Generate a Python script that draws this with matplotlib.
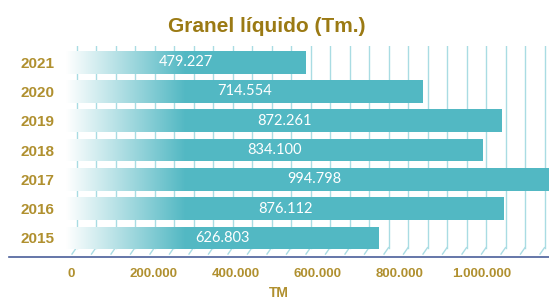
import numpy as np
import matplotlib.pyplot as plt
from matplotlib.colors import LinearSegmentedColormap

years = ['2015', '2016', '2017', '2018', '2019', '2020', '2021']
values = [626803, 876112, 994798, 834100, 872261, 714554, 479227]
labels = ['626.803', '876.112', '994.798', '834.100', '872.261', '714.554', '479.227']
tick_vals = [0, 200000, 400000, 600000, 800000, 1000000]
tick_labels = ['0', '200.000', '400.000', '600.000', '800.000', '1.000.000']

teal = '#52b8c3'
gold = '#b0902f'
grad = LinearSegmentedColormap.from_list('g', ['#ffffff', teal])
sans = ['Liberation Sans', 'DejaVu Sans']

fig = plt.figure(figsize=(5.49, 3.07), dpi=100)
ax = fig.add_axes([9 / 549, 1 - 257 / 307, 540 / 549, 211 / 307])
ax.set_xlim(-114000, 966000)
ax.set_ylim(-0.65, 6.55)

# background grid (light teal verticals + slanted floor)
for gx in np.arange(21000, 966000, 39000):
    ax.plot([gx, gx], [-0.33, 6.55], color='#a9dce3', lw=1.0, zorder=1)
    ax.plot([gx - 9000, gx], [-0.55, -0.33], color='#a9dce3', lw=1.0, zorder=1)

y = np.arange(len(years))
bars = ax.barh(y, values, height=0.78, color='none', edgecolor='none', zorder=3)
g = np.linspace(0, 1, 256).reshape(1, -1)
for b, v, lab in zip(bars, values, labels):
    y0, h = b.get_y(), b.get_height()
    ax.fill_between([0, v], y0, y0 + h, color=teal, zorder=2, lw=0)
    im = ax.imshow(g, cmap=grad, aspect='auto', extent=[0, 240000, y0, y0 + h],
                   zorder=2.5, interpolation='bilinear')
    im.set_clip_path(b)
    ax.text(v / 2, y0 + h / 2, lab, ha='center', va='center', color='white',
            fontsize=10.5, family=['Lato', 'DejaVu Sans'], zorder=4)

ax.set_yticks(y)
ax.set_yticklabels(years, color=gold, fontsize=11, fontweight='bold', family=sans)
ax.tick_params(axis='y', length=0, pad=-33)
ax.set_xticks([])
for s in ['top', 'right', 'left']:
    ax.spines[s].set_visible(False)
ax.spines['bottom'].set_color('#4a5f9a')
ax.spines['bottom'].set_linewidth(1.2)

ax2 = ax.twiny()
ax2.set_xlim(-150850, 1163000)
ax2.xaxis.set_ticks_position('bottom')
ax2.xaxis.set_label_position('bottom')
ax2.set_xticks(tick_vals)
ax2.set_xticklabels(tick_labels, color=gold, fontsize=9.5, fontweight='bold', family=sans)
ax2.tick_params(axis='x', length=0, pad=8)
ax2.set_xlabel('TM', color=gold, fontsize=10, fontweight='bold', family=sans, labelpad=4)
for s in ax2.spines.values():
    s.set_visible(False)

fig.text(0.486, 0.915, 'Granel líquido (Tm.)', ha='center', va='center', color='#9b7a14',
         fontsize=15, fontweight='bold', family=sans)

fig.savefig('out.png', dpi=100)
